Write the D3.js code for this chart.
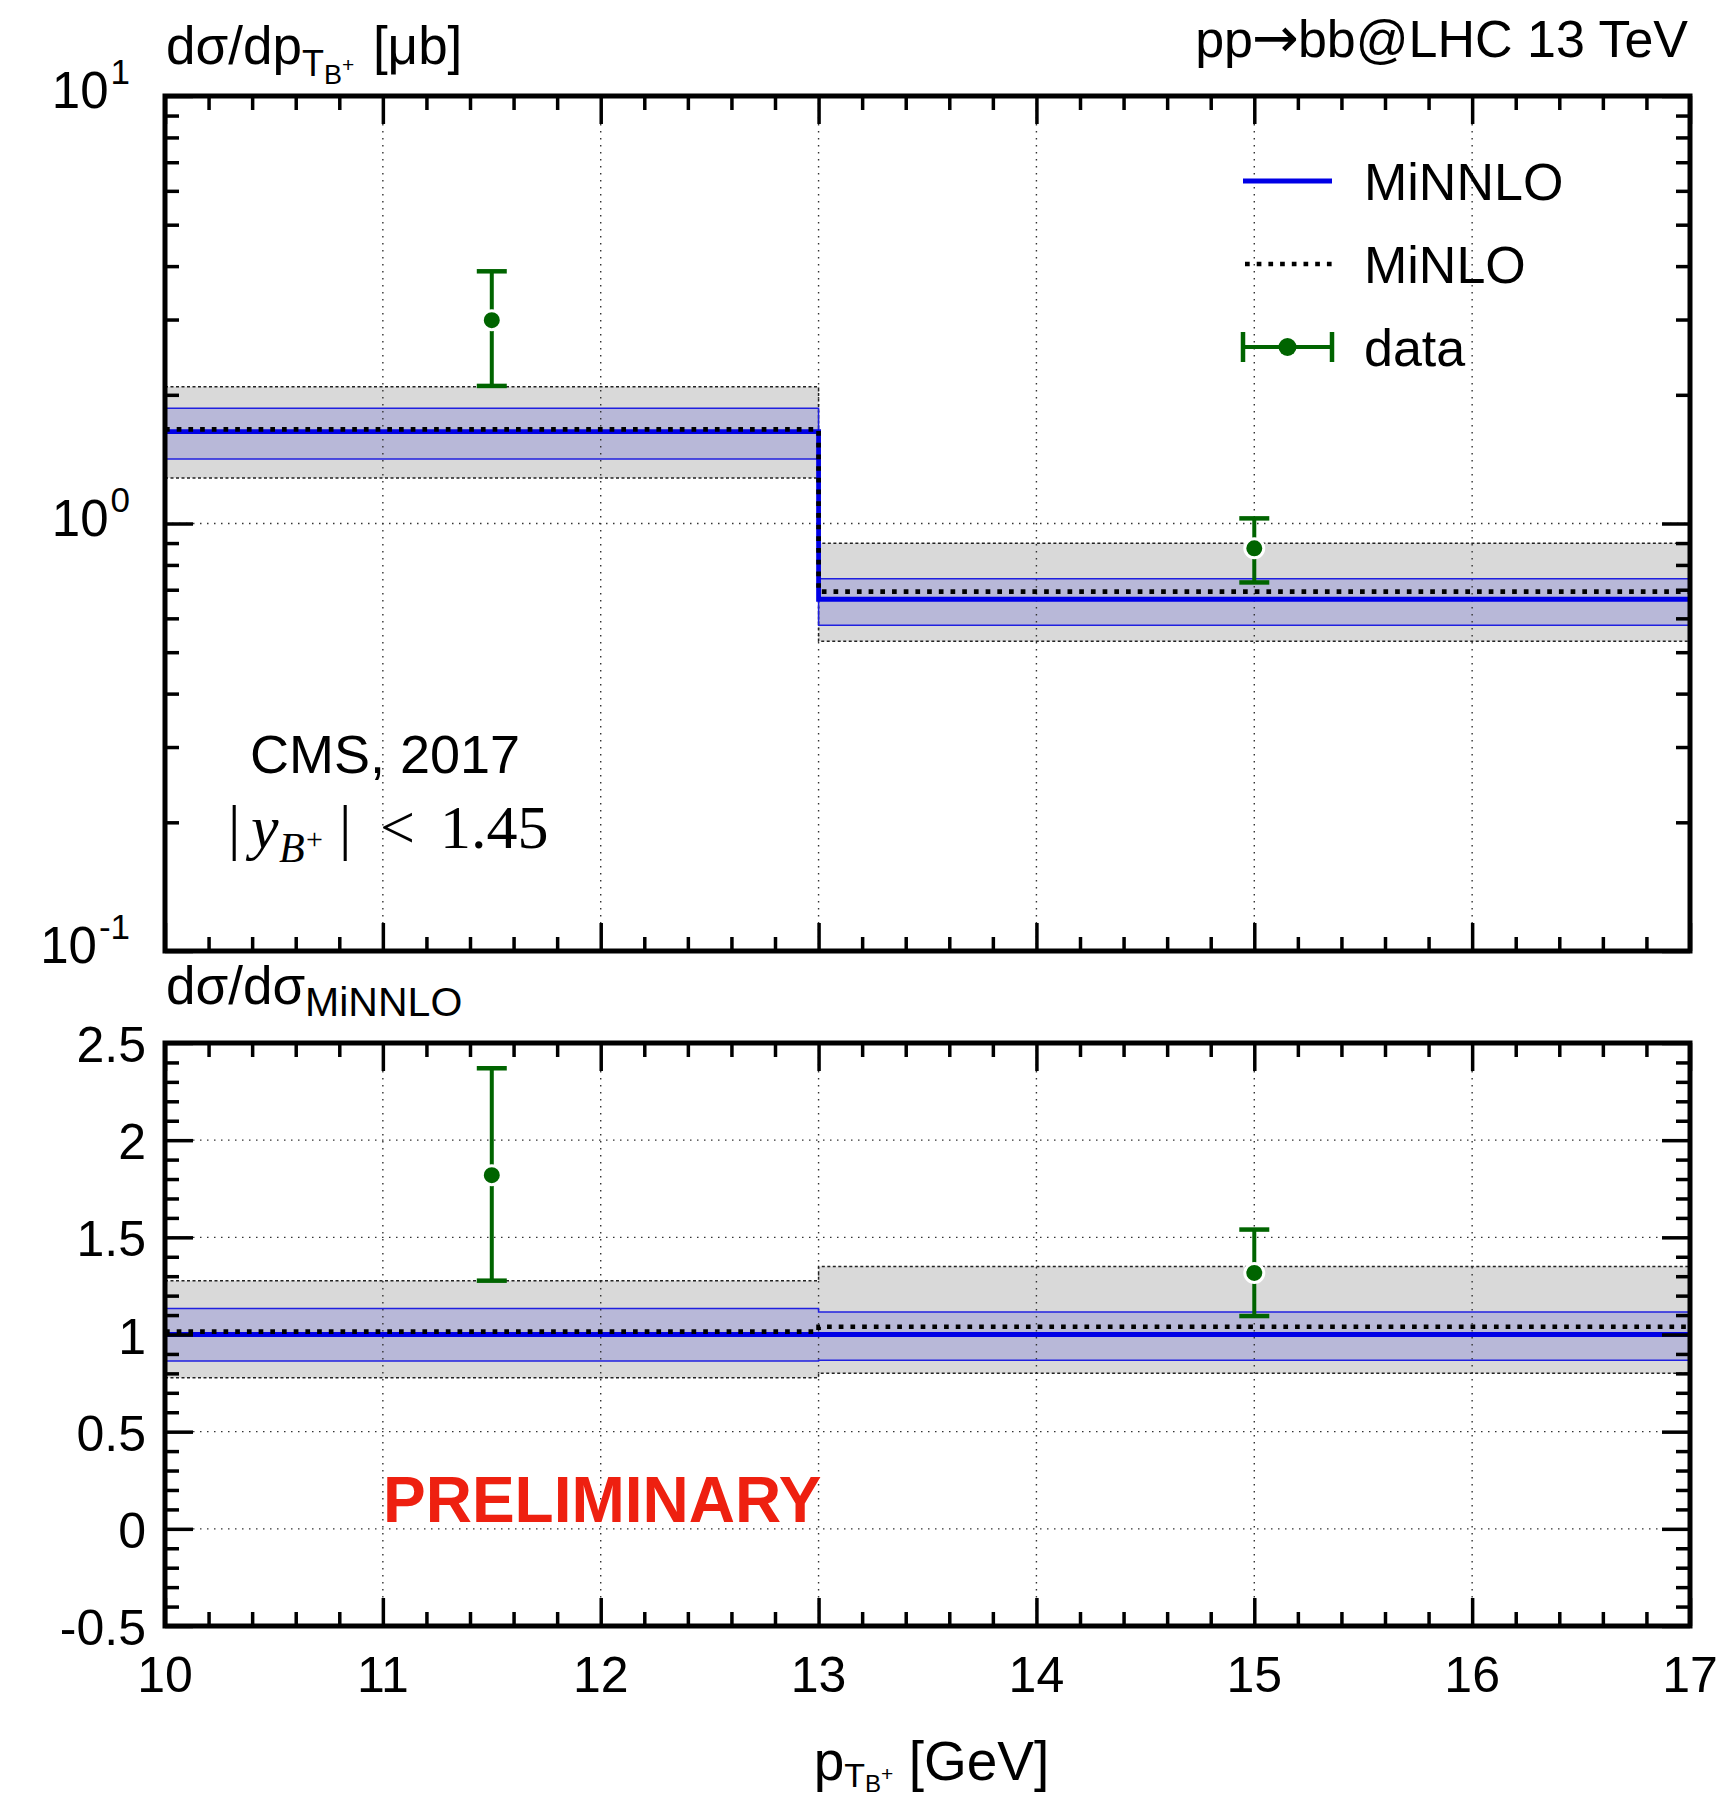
<!DOCTYPE html>
<html>
<head>
<meta charset="utf-8">
<script src="https://cdn.jsdelivr.net/npm/d3@7"></script>
<style>
  html, body { margin: 0; padding: 0; background: #fff; }
  svg { display: block; }
  text { font-family: "Liberation Sans", Arial, Helvetica, sans-serif; fill: #000; }
</style>
</head>
<body>
<script>
// ---------------- data ----------------
const binEdges = [10, 13, 17];
const xTickLabels = ["10", "11", "12", "13", "14", "15", "16", "17"];
const ratioTickLabels = ["-0.5", "0", "0.5", "1", "1.5", "2", "2.5"];

// upper panel, dσ/dpT [μb]
const minnloCentral = [1.64, 0.665];
const minnloLow     = [1.415, 0.578];
const minnloHigh    = [1.86, 0.743];
const minloCentral  = [1.66, 0.693];
const minloLow      = [1.277, 0.530];
const minloHigh     = [2.09, 0.899];
const dataX         = [11.5, 15];
const dataY         = [2.99, 0.875];
const dataLow       = [2.098, 0.728];
const dataHigh      = [3.89, 1.028];

// lower panel, ratio to MiNNLO
const ratioMinnloCentral = [1.0, 1.0];
const ratioMinnloLow     = [0.863, 0.867];
const ratioMinnloHigh    = [1.134, 1.116];
const ratioMinloCentral  = [1.015, 1.04];
const ratioMinloLow      = [0.778, 0.80];
const ratioMinloHigh     = [1.277, 1.35];
const ratioDataY         = [1.82, 1.317];
const ratioDataLow       = [1.277, 1.095];
const ratioDataHigh      = [2.37, 1.54];

const legendLabels = ["MiNNLO", "MiNLO", "data"];

// ---------------- layout ----------------
const W = 1732, H = 1801;
const L = 165, R = 1690;
const T1 = 96, B1 = 951;
const T2 = 1043, B2 = 1626;

const BLUE = "#0000e6";
const GREEN = "#006400";

const svg = d3.select("body").append("svg").attr("width", W).attr("height", H);

const x = d3.scaleLinear().domain([10, 17]).range([L, R]);
const yTop = d3.scaleLog().domain([0.1, 10]).range([B1, T1]);
const yBot = d3.scaleLinear().domain([-0.5, 2.5]).range([B2, T2]);

function stepPts(vals) {
  return [[binEdges[0], vals[0]], [binEdges[1], vals[1]], [binEdges[2], vals[1]]];
}
function stepPts2(lo, hi) {
  return [
    {x: binEdges[0], lo: lo[0], hi: hi[0]},
    {x: binEdges[1], lo: lo[1], hi: hi[1]},
    {x: binEdges[2], lo: lo[1], hi: hi[1]}
  ];
}

function drawPanel(y, top, bottom, d) {
  const g = svg.append("g");
  const area = d3.area().curve(d3.curveStepAfter)
    .x(p => x(p.x)).y0(p => y(p.lo)).y1(p => y(p.hi));
  const line = d3.line().curve(d3.curveStepAfter).x(p => x(p[0])).y(p => y(p[1]));

  // bands
  g.append("path").attr("d", area(stepPts2(d.minloLow, d.minloHigh)))
    .attr("fill", "#d9d9d9");
  g.append("path").attr("d", area(stepPts2(d.minnloLow, d.minnloHigh)))
    .attr("fill", "#b8b8d8");

  // grid
  const gridG = g.append("g").attr("stroke", "#333").attr("stroke-width", 1.4)
    .attr("stroke-dasharray", "1.5,5.5");
  [11, 12, 13, 14, 15, 16].forEach(v => {
    gridG.append("line").attr("x1", x(v)).attr("x2", x(v)).attr("y1", top).attr("y2", bottom);
  });
  d.hGrid.forEach(v => {
    gridG.append("line").attr("x1", L).attr("x2", R).attr("y1", y(v)).attr("y2", y(v));
  });

  // band borders
  g.append("path").attr("d", line(stepPts(d.minloLow))).attr("fill", "none")
    .attr("stroke", "#222").attr("stroke-width", 1.5).attr("stroke-dasharray", "3,2.5");
  g.append("path").attr("d", line(stepPts(d.minloHigh))).attr("fill", "none")
    .attr("stroke", "#222").attr("stroke-width", 1.5).attr("stroke-dasharray", "3,2.5");
  g.append("path").attr("d", line(stepPts(d.minnloLow))).attr("fill", "none")
    .attr("stroke", "#2020e0").attr("stroke-width", 1.5);
  g.append("path").attr("d", line(stepPts(d.minnloHigh))).attr("fill", "none")
    .attr("stroke", "#2020e0").attr("stroke-width", 1.5);

  // central lines
  g.append("path").attr("d", line(stepPts(d.minnloCentral))).attr("fill", "none")
    .attr("stroke", BLUE).attr("stroke-width", 4.8);
  g.append("path").attr("d", line(stepPts(d.minloCentral))).attr("fill", "none")
    .attr("stroke", "#000").attr("stroke-width", 4.7).attr("stroke-dasharray", "4.7,7");

  // data points
  const dg = g.append("g");
  dataX.forEach((xv, i) => {
    const cx = x(xv);
    dg.append("line").attr("x1", cx).attr("x2", cx)
      .attr("y1", y(d.dataLow[i])).attr("y2", y(d.dataHigh[i]))
      .attr("stroke", GREEN).attr("stroke-width", 4);
    [d.dataLow[i], d.dataHigh[i]].forEach(v => {
      dg.append("line").attr("x1", cx - 15).attr("x2", cx + 15)
        .attr("y1", y(v)).attr("y2", y(v))
        .attr("stroke", GREEN).attr("stroke-width", 4.5);
    });
    dg.append("circle").attr("cx", cx).attr("cy", y(d.dataY[i])).attr("r", 9.5)
      .attr("fill", GREEN).attr("stroke", "#fff").attr("stroke-width", 3);
  });

  // x ticks (top and bottom, inward)
  const xMajor = d3.range(10, 17.001, 1);
  const xMinor = d3.range(10, 17.001, 0.2).filter(v => Math.abs(v - Math.round(v)) > 1e-6);
  const tickStyle = sel => {
    sel.select(".domain").remove();
    sel.selectAll(".tick line").attr("stroke", "#000").attr("stroke-width", 3.5);
    sel.selectAll(".tick text").remove();
  };
  g.append("g").attr("transform", `translate(0,${bottom})`)
    .call(d3.axisBottom(x).tickValues(xMajor).tickSize(-28).tickFormat("")).call(tickStyle);
  g.append("g").attr("transform", `translate(0,${bottom})`)
    .call(d3.axisBottom(x).tickValues(xMinor).tickSize(-14).tickFormat("")).call(tickStyle);
  g.append("g").attr("transform", `translate(0,${top})`)
    .call(d3.axisTop(x).tickValues(xMajor).tickSize(-28).tickFormat("")).call(tickStyle);
  g.append("g").attr("transform", `translate(0,${top})`)
    .call(d3.axisTop(x).tickValues(xMinor).tickSize(-14).tickFormat("")).call(tickStyle);

  // y ticks (left and right, inward)
  g.append("g").attr("transform", `translate(${L},0)`)
    .call(d3.axisLeft(y).tickValues(d.yMajor).tickSize(-28).tickFormat("")).call(tickStyle);
  g.append("g").attr("transform", `translate(${L},0)`)
    .call(d3.axisLeft(y).tickValues(d.yMinor).tickSize(-14).tickFormat("")).call(tickStyle);
  g.append("g").attr("transform", `translate(${R},0)`)
    .call(d3.axisRight(y).tickValues(d.yMajor).tickSize(-28).tickFormat("")).call(tickStyle);
  g.append("g").attr("transform", `translate(${R},0)`)
    .call(d3.axisRight(y).tickValues(d.yMinor).tickSize(-14).tickFormat("")).call(tickStyle);

  // frame
  g.append("rect").attr("x", L).attr("y", top).attr("width", R - L).attr("height", bottom - top)
    .attr("fill", "none").attr("stroke", "#000").attr("stroke-width", 5);
  return g;
}

// upper panel
const topTicks = yTop.ticks();
const topMajor = topTicks.filter(v => Math.abs(Math.log10(v) - Math.round(Math.log10(v))) < 1e-6);
const topMinor = topTicks.filter(v => !topMajor.includes(v));
drawPanel(yTop, T1, B1, {
  minnloCentral, minnloLow, minnloHigh, minloCentral, minloLow, minloHigh,
  dataY, dataLow, dataHigh, hGrid: [1], yMajor: topMajor, yMinor: topMinor
});

// lower panel
const botMajor = ratioTickLabels.map(Number);
const botMinor = d3.range(-0.5, 2.5001, 0.1).filter(v => botMajor.every(m => Math.abs(m - v) > 1e-6));
drawPanel(yBot, T2, B2, {
  minnloCentral: ratioMinnloCentral, minnloLow: ratioMinnloLow, minnloHigh: ratioMinnloHigh,
  minloCentral: ratioMinloCentral, minloLow: ratioMinloLow, minloHigh: ratioMinloHigh,
  dataY: ratioDataY, dataLow: ratioDataLow, dataHigh: ratioDataHigh,
  hGrid: [0, 0.5, 1, 1.5, 2], yMajor: botMajor, yMinor: botMinor
});

// ---------------- tick labels ----------------
topMajor.forEach(v => {
  const e = Math.round(Math.log10(v));
  const t = svg.append("text").attr("x", 130).attr("y", yTop(v) + 12)
    .attr("text-anchor", "end").attr("font-size", 51);
  t.append("tspan").text("10");
  t.append("tspan").attr("font-size", 35).attr("dx", 2).attr("dy", -24).text(String(e));
});
ratioTickLabels.forEach(s => {
  svg.append("text").attr("x", 146).attr("y", yBot(+s) + 19)
    .attr("text-anchor", "end").attr("font-size", 50).text(s);
});
xTickLabels.forEach(s => {
  svg.append("text").attr("x", x(+s)).attr("y", 1692)
    .attr("text-anchor", "middle").attr("font-size", 50).text(s);
});

// ---------------- axis titles ----------------
{
  const t = svg.append("text").attr("x", 166).attr("y", 64).attr("font-size", 53);
  t.append("tspan").text("dσ/dp");
  t.append("tspan").attr("font-size", 36).attr("dy", 12).text("T");
  t.append("tspan").attr("font-size", 27).attr("dy", 8).text("B");
  t.append("tspan").attr("font-size", 21).attr("dy", -12).text("+");
  t.append("tspan").attr("font-size", 53).attr("dx", 4).attr("dy", -8).text(" [μb]");
}
{
  const t = svg.append("text").attr("x", 166).attr("y", 1004).attr("font-size", 53);
  t.append("tspan").text("dσ/dσ");
  t.append("tspan").attr("font-size", 41).attr("dy", 12).text("MiNNLO");
}
{
  const t = svg.append("text").attr("x", x(13.5) + 4).attr("y", 1780)
    .attr("text-anchor", "middle").attr("font-size", 55);
  t.append("tspan").text("p");
  t.append("tspan").attr("font-size", 34).attr("dy", 7).text("T");
  t.append("tspan").attr("font-size", 24).attr("dy", 5).text("B");
  t.append("tspan").attr("font-size", 21).attr("dy", -11).text("+");
  t.append("tspan").attr("font-size", 55).attr("dy", -1).text(" [GeV]");
}
{
  const t = svg.append("text").attr("x", 1688).attr("y", 57).attr("text-anchor", "end")
    .attr("font-size", 52);
  t.append("tspan").text("pp");
  t.append("tspan").style("font-family", "'DejaVu Sans', sans-serif").attr("font-size", 56)
    .attr("dx", -1).text("→");
  t.append("tspan").attr("dx", -1).text("bb@LHC 13 TeV");
}

// ---------------- annotations ----------------
svg.append("text").attr("x", 385).attr("y", 773).attr("text-anchor", "middle")
  .attr("font-size", 54).text("CMS, 2017");
{
  const t = svg.append("text").attr("y", 848).attr("font-size", 62)
    .style("font-family", "'Liberation Serif', 'Times New Roman', serif");
  t.append("tspan").attr("x", 228).text("|");
  t.append("tspan").attr("x", 251).attr("font-style", "italic").text("y");
  t.append("tspan").attr("x", 279).attr("font-style", "italic").attr("font-size", 42).attr("dy", 14).text("B");
  t.append("tspan").attr("x", 306).attr("font-size", 30).attr("dy", -13).text("+");
  t.append("tspan").attr("x", 339).attr("dy", -1).text("|");
  t.append("tspan").attr("x", 380).text("<");
  t.append("tspan").attr("x", 440).text("1.45");
}
svg.append("text").attr("x", 383).attr("y", 1522)
  .attr("font-size", 64).attr("font-weight", "bold").style("fill", "#ee2010")
  .text("PRELIMINARY");

// ---------------- legend ----------------
const lg = svg.append("g");
const lx1 = 1243, lx2 = 1332, ltx = 1364;
const rows = [181, 264, 347];
lg.append("line").attr("x1", lx1).attr("x2", lx2).attr("y1", rows[0]).attr("y2", rows[0])
  .attr("stroke", BLUE).attr("stroke-width", 4.8);
lg.append("line").attr("x1", lx1 + 2).attr("x2", lx2).attr("y1", rows[1]).attr("y2", rows[1])
  .attr("stroke", "#000").attr("stroke-width", 4.7).attr("stroke-dasharray", "4.7,7");
lg.append("line").attr("x1", lx1).attr("x2", lx2).attr("y1", rows[2]).attr("y2", rows[2])
  .attr("stroke", GREEN).attr("stroke-width", 4);
[lx1, lx2].forEach(xx => {
  lg.append("line").attr("x1", xx).attr("x2", xx).attr("y1", rows[2] - 15).attr("y2", rows[2] + 15)
    .attr("stroke", GREEN).attr("stroke-width", 4.5);
});
lg.append("circle").attr("cx", (lx1 + lx2) / 2).attr("cy", rows[2]).attr("r", 9).attr("fill", GREEN);
legendLabels.forEach((s, i) => {
  lg.append("text").attr("x", ltx).attr("y", rows[i] + 19).attr("font-size", 52).text(s);
});
</script>
</body>
</html>
